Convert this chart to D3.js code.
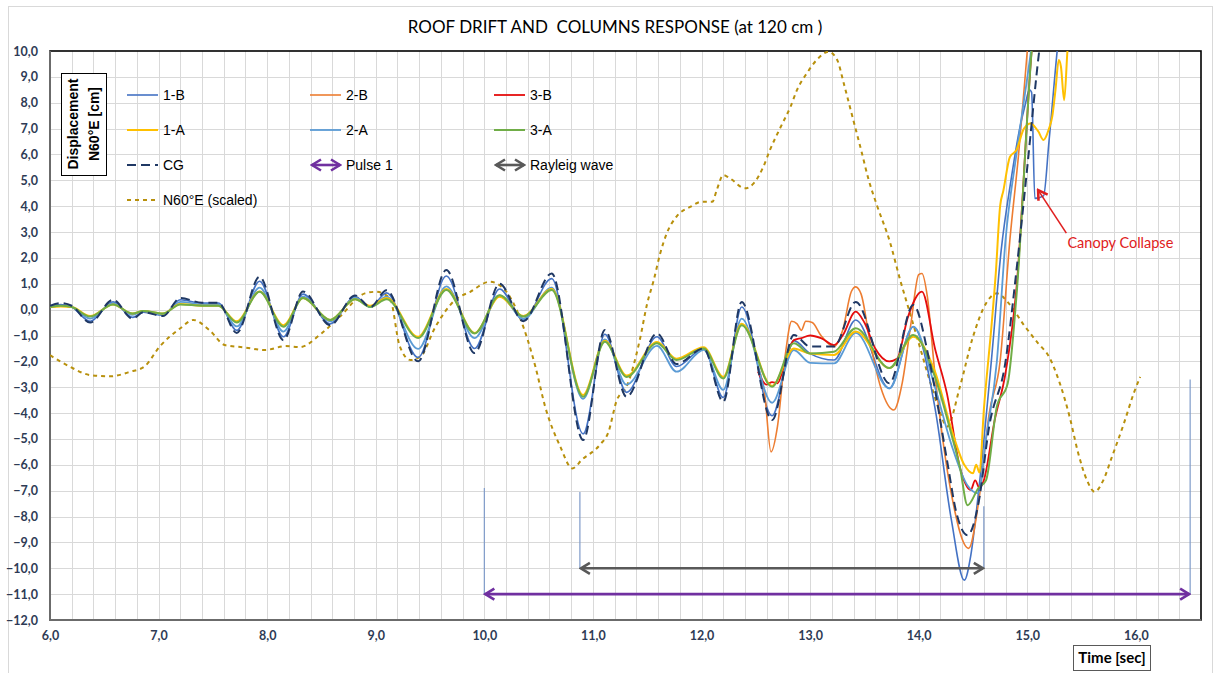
<!DOCTYPE html>
<html>
<head>
<meta charset="utf-8">
<script src="https://cdn.jsdelivr.net/npm/d3@7"></script>
<style>
  html,body{margin:0;padding:0;background:#fff;}
  svg{display:block;}
  text{white-space:pre;}
</style>
</head>
<body>
<svg id="chart" width="1215" height="673"></svg>
<script>
// ---- data ----
const tEarly = [6.0,6.1,6.2,6.37,6.58,6.76,6.86,7.04,7.2,7.4,7.55,7.72,7.93,8.15,8.33,8.58,8.81,8.95,9.1,9.39,
  9.65,9.91,10.14,10.36,10.62,10.91,11.11,11.31,11.59,11.77,12.02,12.2,12.37,12.65,12.85,13.0,13.22,13.42,13.73,13.95];

const v1B = [0.12,0.2,0.1,-0.45,0.3,-0.3,-0.1,-0.22,0.38,0.25,0.25,-0.8,1.1,-1.05,0.6,-0.55,0.5,0.1,0.65,-1.85,
  1.3,-1.5,0.8,-0.4,1.2,-4.8,-0.95,-3.2,-1.05,-2.2,-1.5,-3.4,0.1,-4.1,-1.2,-1.7,-1.95,-0.4,-3.04,-0.66];
const v1A = [0.1,0.12,0.1,-0.25,0.2,-0.15,-0.05,-0.15,0.22,0.15,0.15,-0.45,0.7,-0.6,0.45,-0.4,0.4,0.15,0.45,-1.05,
  0.8,-0.9,0.5,-0.25,0.8,-3.3,-1.2,-2.55,-1.25,-1.9,-1.45,-2.6,-0.55,-2.95,-1.5,-1.7,-1.75,-0.85,-2.26,-1.05];
const v2A = [0.1,0.15,0.1,-0.35,0.25,-0.2,-0.05,-0.2,0.3,0.2,0.2,-0.65,0.85,-0.85,0.5,-0.45,0.45,0.1,0.5,-1.52,
  0.9,-1.1,0.55,-0.35,0.85,-3.45,-1.15,-2.9,-1.4,-2.4,-1.55,-3.1,-0.35,-3.6,-1.56,-2.06,-2.08,-0.9,-3.05,-0.66];
const v3A = [0.1,0.15,0.1,-0.27,0.2,-0.15,-0.05,-0.15,0.2,0.15,0.15,-0.5,0.69,-0.66,0.45,-0.4,0.4,0.1,0.4,-1.1,
  0.76,-0.92,0.56,-0.27,0.76,-3.37,-1.24,-2.6,-1.3,-1.95,-1.5,-2.66,-0.6,-2.98,-1.3,-1.7,-1.63,-0.72,-2.26,-0.98];
const vCG = [0.15,0.25,0.15,-0.5,0.38,-0.35,-0.1,-0.25,0.45,0.27,0.27,-0.9,1.27,-1.18,0.7,-0.6,0.55,0.1,0.75,-2.0,
  1.53,-1.68,1.0,-0.45,1.4,-5.04,-0.79,-3.37,-0.92,-2.1,-1.5,-3.56,0.3,-4.27,-0.98,-1.43,-1.43,0.3,-2.85,0.18];

// collapse part, [time, displacement]
const tail1B = [[14.15,-3.8],[14.3,-8.1],[14.42,-10.46],[14.48,-9.5],[14.55,-7.1],[14.67,-1.95],[14.76,2.3],[14.85,5.0],
  [14.93,7.0],[14.98,7.9],[15.02,8.5],[15.04,8.4],[15.07,4.3],[15.15,4.4],[15.2,6.5],[15.28,10.2],[15.3,11]];
const tail1A = [[14.15,-2.4],[14.3,-4.6],[14.42,-6.0],[14.5,-6.33],[14.53,-6.0],[14.56,-6.3],[14.6,-3.88],[14.67,-0.66],
  [14.71,1.4],[14.75,4.0],[14.78,4.6],[14.84,5.9],[14.9,6.17],[14.97,7.0],[15.03,7.2],[15.1,6.9],[15.15,6.56],[15.2,7.0],
  [15.23,7.46],[15.26,8.5],[15.29,9.65],[15.31,9.4],[15.34,8.1],[15.37,10.0],[15.39,11]];
const tail2A = [[14.15,-3.0],[14.3,-5.2],[14.45,-6.8],[14.55,-7.1],[14.62,-5.0],[14.72,-2.0],[14.8,2.7],[14.9,6.0],
  [15.05,10.5],[15.08,11.5]];
const tail3A = [[14.15,-2.6],[14.3,-4.8],[14.38,-6.1],[14.45,-7.56],[14.55,-6.9],[14.62,-6.6],[14.72,-3.75],[14.82,-2.85],
  [14.9,0.5],[15.04,10.0],[15.06,11]];
const tailCG = [[14.1,-2.0],[14.26,-5.8],[14.35,-7.9],[14.45,-8.72],[14.55,-7.5],[14.65,-4.5],[14.8,-2.0],[14.9,1.5],
  [15.0,5.5],[15.11,10.0],[15.14,11]];

const s2B = [[12.52,-2.2],[12.58,-3.2],[12.64,-5.5],[12.7,-4.5],[12.77,-1.8],[12.83,-0.45],[12.88,-0.55],[12.92,-0.8],
  [12.96,-0.45],[13.02,-0.5],[13.1,-1.0],[13.22,-1.43],[13.3,-0.8],[13.38,0.7],[13.42,0.88],[13.47,0.6],[13.55,-1.2],
  [13.65,-3.0],[13.77,-3.88],[13.85,-2.8],[13.93,-0.5],[14.0,1.35],[14.03,1.4],[14.08,0.5],[14.15,-2.5],[14.3,-7.1],
  [14.46,-9.23],[14.55,-7.5],[14.65,-4.0],[14.75,-2.0],[14.84,2.7],[14.92,6.0],[15.0,10.0],[15.02,11]];
const s3B = [[12.52,-2.4],[12.6,-2.9],[12.65,-2.8],[12.7,-2.85],[12.77,-2.0],[12.85,-1.18],[12.92,-1.1],[13.0,-1.0],
  [13.1,-1.1],[13.22,-1.37],[13.3,-1.0],[13.42,-0.08],[13.5,-0.5],[13.6,-1.5],[13.73,-2.0],[13.8,-1.9],[13.9,-0.3],
  [14.03,0.7],[14.15,-1.5],[14.26,-3.24],[14.38,-6.1],[14.48,-6.97],[14.52,-6.6],[14.56,-6.9],[14.6,-6.6],[14.7,-4.27],
  [14.8,-2.45],[14.9,0.8],[15.04,10.0],[15.06,11]];

const n60 = [[6.0,-1.76],[6.18,-2.2],[6.37,-2.53],[6.55,-2.58],[6.74,-2.4],[6.87,-2.2],[7.01,-1.43],[7.2,-0.72],[7.32,-0.4],
  [7.47,-0.8],[7.61,-1.37],[7.79,-1.46],[7.98,-1.56],[8.17,-1.41],[8.3,-1.45],[8.5,-0.92],[8.67,-0.27],[8.9,0.63],[9.0,0.69],
  [9.13,0.45],[9.22,-1.4],[9.32,-1.95],[9.41,-1.82],[9.55,-0.66],[9.73,0.37],[9.87,0.69],[10.05,1.08],[10.19,0.76],
  [10.33,-0.34],[10.47,-2.2],[10.56,-3.75],[10.7,-5.3],[10.81,-6.14],[10.9,-5.8],[11.07,-5.2],[11.14,-4.77],[11.22,-3.5],
  [11.31,-2.98],[11.43,-1.2],[11.5,0.24],[11.56,1.14],[11.62,2.18],[11.68,2.95],[11.77,3.6],[11.9,3.98],[12.0,4.17],
  [12.1,4.17],[12.14,4.62],[12.2,5.2],[12.26,5.08],[12.4,4.69],[12.48,4.88],[12.57,5.53],[12.63,6.17],[12.73,7.07],
  [12.82,7.85],[12.88,8.5],[12.97,9.14],[13.06,9.65],[13.17,9.97],[13.25,9.65],[13.31,8.75],[13.39,7.46],[13.47,6.17],
  [13.54,5.01],[13.62,3.98],[13.73,2.69],[13.83,1.14],[13.92,-0.14],[14.01,-1.43],[14.1,-2.72],[14.2,-4.0],[14.26,-4.53],
  [14.38,-2.98],[14.5,-1.05],[14.62,0.24],[14.72,0.63],[14.83,0.24],[14.97,-0.6],[15.1,-1.3],[15.2,-1.82],[15.3,-2.85],
  [15.39,-4.14],[15.47,-5.56],[15.55,-6.6],[15.62,-7.04],[15.7,-6.6],[15.78,-5.69],[15.89,-4.4],[15.98,-3.24],[16.04,-2.6]];

// vertical markers [time, from, to] and the two interval arrows
const markers = [[10.0,-6.9,-11],[10.88,-7.05,-10],[14.6,-7.6,-10],[16.5,-2.7,-11]];
const pulse1 = {from:10.0, to:16.5, y:-11};
const rayleigh = {from:10.88, to:14.6, y:-10};
const canopy = {text:'Canopy Collapse', tx:15.37, ty:2.58, x1:15.36, y1:2.96, x2:15.10, y2:4.62};

const xTicks = d3.range(6,17);
const yTicks = d3.range(-12,11);

// ---- build ----
const zip = (t,v) => t.map((d,i)=>[d,v[i]]);
const series = [
  {name:'N60°E (scaled)', pts:n60, color:'#b8900c', w:2, dash:'4,4'},
  {name:'1-B', pts:zip(tEarly,v1B).concat(tail1B), color:'#4472c4', w:1.6},
  {name:'2-B', pts:s2B, color:'#ed7d31', w:1.6},
  {name:'3-B', pts:s3B, color:'#e50d0d', w:1.8},
  {name:'2-A', pts:zip(tEarly,v2A).concat(tail2A), color:'#5b9bd5', w:1.8},
  {name:'1-A', pts:zip(tEarly,v1A).concat(tail1A), color:'#ffc000', w:2},
  {name:'3-A', pts:zip(tEarly,v3A).concat(tail3A), color:'#70ad47', w:2},
  {name:'CG', pts:zip(tEarly,vCG).concat(tailCG), color:'#1f3864', w:2, dash:'9,5'}
];

const svg = d3.select('#chart');
const L=50, R=1201, T=51, B=620;
const x = d3.scaleLinear().domain([6,16.6]).range([L,R]);
const y = d3.scaleLinear().domain([-12,10]).range([B,T]);
const fmt = v => d3.format('.1f')(v).replace('.',',');

// chart area border
svg.append('rect').attr('x',8.5).attr('y',6.5).attr('width',1204).attr('height',670)
  .attr('fill','none').attr('stroke','#d9d9d9');

// arrow heads (open chevrons, tip on the line end)
const defs = svg.append('defs');
function head(id,color){
  defs.append('marker').attr('id',id).attr('viewBox','-12 -8 14 16').attr('refX',0).attr('refY',0)
    .attr('markerWidth',14).attr('markerHeight',16).attr('markerUnits','userSpaceOnUse').attr('orient','auto-start-reverse')
    .append('path').attr('d','M-9,-5.5L0,0L-9,5.5').attr('fill','none').attr('stroke',color).attr('stroke-width',2.6);
}
head('hPurple','#7030a0'); head('hGray','#595959'); head('hRed','#e02020');
defs.append('clipPath').attr('id','plotClip').append('rect').attr('x',L).attr('y',T).attr('width',R-L).attr('height',B-T);

// grid
const grid = svg.append('g').attr('stroke','#d9d9d9').attr('stroke-width',1);
grid.selectAll('.gv').data(d3.range(1,53).map(i=>6+i*0.2)).enter().append('line')
  .attr('x1',d=>Math.round(x(d))+0.5).attr('x2',d=>Math.round(x(d))+0.5).attr('y1',T).attr('y2',B);
grid.selectAll('.gh').data(yTicks.slice(1,-1)).enter().append('line')
  .attr('x1',L).attr('x2',R).attr('y1',d=>Math.round(y(d))+0.5).attr('y2',d=>Math.round(y(d))+0.5);

// plot border: black top/right, gray axes
svg.append('rect').attr('x',L).attr('y',T).attr('width',R-L).attr('height',B-T)
  .attr('fill','none').attr('stroke','#000').attr('stroke-width',1.6);
svg.append('path').attr('d',`M${L},${T}V${B}H${R}`).attr('fill','none').attr('stroke','#6b6b6b').attr('stroke-width',2);

// axes labels
const yAxis = svg.append('g').attr('transform',`translate(${L},0)`)
  .call(d3.axisLeft(y).tickValues(yTicks).tickFormat(fmt).tickSize(0).tickPadding(12));
const xAxis = svg.append('g').attr('transform',`translate(0,${B})`)
  .call(d3.axisBottom(x).tickValues(xTicks).tickFormat(fmt).tickSize(0).tickPadding(11));
[yAxis,xAxis].forEach(a=>{
  a.select('.domain').remove();
  a.selectAll('text').attr('font-family','Lato, "Open Sans", sans-serif').attr('font-weight','bold')
    .attr('font-size','12.5px').attr('fill','#2e3b55');
});

// vertical markers
svg.append('g').selectAll('line').data(markers).enter().append('line')
  .attr('x1',d=>x(d[0])).attr('x2',d=>x(d[0])).attr('y1',d=>y(d[1])).attr('y2',d=>y(d[2]))
  .attr('stroke','#7f9bc9').attr('stroke-width',1.2);

// series
const line = d3.line().x(d=>x(d[0])).y(d=>y(d[1])).curve(d3.curveMonotoneX);
svg.append('g').attr('clip-path','url(#plotClip)').selectAll('path').data(series).enter().append('path')
  .attr('d',d=>line(d.pts)).attr('fill','none').attr('stroke',d=>d.color).attr('stroke-width',d=>d.w)
  .attr('stroke-dasharray',d=>d.dash||null).attr('stroke-linejoin','round');

// interval arrows
function interval(a,color,id){
  svg.append('line').attr('x1',x(a.from)+1).attr('x2',x(a.to)-1).attr('y1',y(a.y)).attr('y2',y(a.y))
    .attr('stroke',color).attr('stroke-width',2.6)
    .attr('marker-start',`url(#${id})`).attr('marker-end',`url(#${id})`);
}
interval(rayleigh,'#595959','hGray');
interval(pulse1,'#7030a0','hPurple');

// canopy collapse note
svg.append('line').attr('x1',x(canopy.x1)).attr('y1',y(canopy.y1)).attr('x2',x(canopy.x2)).attr('y2',y(canopy.y2))
  .attr('stroke','#e02020').attr('stroke-width',1.6).attr('marker-end','url(#hRed)');
svg.append('text').attr('x',x(canopy.tx)).attr('y',y(canopy.ty)).attr('dy','0.35em')
  .attr('font-family','Lato, sans-serif').attr('font-size','14.5px').attr('fill','#e02020').text(canopy.text);

// title
svg.append('text').attr('x',615).attr('y',27).attr('dy','0.35em').attr('text-anchor','middle')
  .attr('font-family','Lato, "Open Sans", sans-serif').attr('font-size','17px').attr('fill','#000')
  .text('ROOF DRIFT AND  COLUMNS RESPONSE (at 120 cm )');

// y title box
svg.append('rect').attr('x',61.5).attr('y',73.5).attr('width',45).attr('height',102)
  .attr('fill','#fff').attr('stroke','#000').attr('stroke-width',1);
const yt = svg.append('text').attr('transform','translate(84,124) rotate(-90)').attr('text-anchor','middle')
  .attr('font-family','"Liberation Sans", Arial, sans-serif').attr('font-weight','bold').attr('font-size','14px');
yt.append('tspan').attr('x',0).attr('y',-6).text('Displacement');
yt.append('tspan').attr('x',0).attr('y',15).text('N60°E [cm]');

// x title box
svg.append('rect').attr('x',1073.5).attr('y',645.5).attr('width',77).attr('height',25)
  .attr('fill','#fff').attr('stroke','#595959').attr('stroke-width',1);
svg.append('text').attr('x',1112).attr('y',658).attr('dy','0.35em').attr('text-anchor','middle')
  .attr('font-family','Lato, sans-serif').attr('font-weight','bold').attr('font-size','15px').text('Time [sec]');

// legend
const legendItems = [
  {name:'1-B', col:0, row:0}, {name:'2-B', col:1, row:0}, {name:'3-B', col:2, row:0},
  {name:'1-A', col:0, row:1}, {name:'2-A', col:1, row:1}, {name:'3-A', col:2, row:1},
  {name:'CG', col:0, row:2}, {name:'Pulse 1', col:1, row:2, arrow:['#7030a0','hPurple']},
  {name:'Rayleig wave', col:2, row:2, arrow:['#595959','hGray']},
  {name:'N60°E (scaled)', col:0, row:3}
];
const colX = [127,310,494], rowY = [95,130,165,200];
const lg = svg.append('g');
legendItems.forEach(it=>{
  const x0 = colX[it.col], y0 = rowY[it.row];
  if(it.arrow){
    lg.append('line').attr('x1',x0+2).attr('x2',x0+30).attr('y1',y0).attr('y2',y0)
      .attr('stroke',it.arrow[0]).attr('stroke-width',2.6)
      .attr('marker-start',`url(#${it.arrow[1]})`).attr('marker-end',`url(#${it.arrow[1]})`);
  } else {
    const s = series.find(d=>d.name===it.name);
    lg.append('line').attr('x1',x0).attr('x2',x0+31).attr('y1',y0).attr('y2',y0)
      .attr('stroke',s.color).attr('stroke-width',s.w).attr('stroke-dasharray',s.dash||null);
  }
  lg.append('text').attr('x',x0+36).attr('y',y0).attr('dy','0.35em')
    .attr('font-family','"Liberation Sans", Arial, sans-serif').attr('font-size','14px').attr('fill','#000').text(it.name);
});
</script>
</body>
</html>
